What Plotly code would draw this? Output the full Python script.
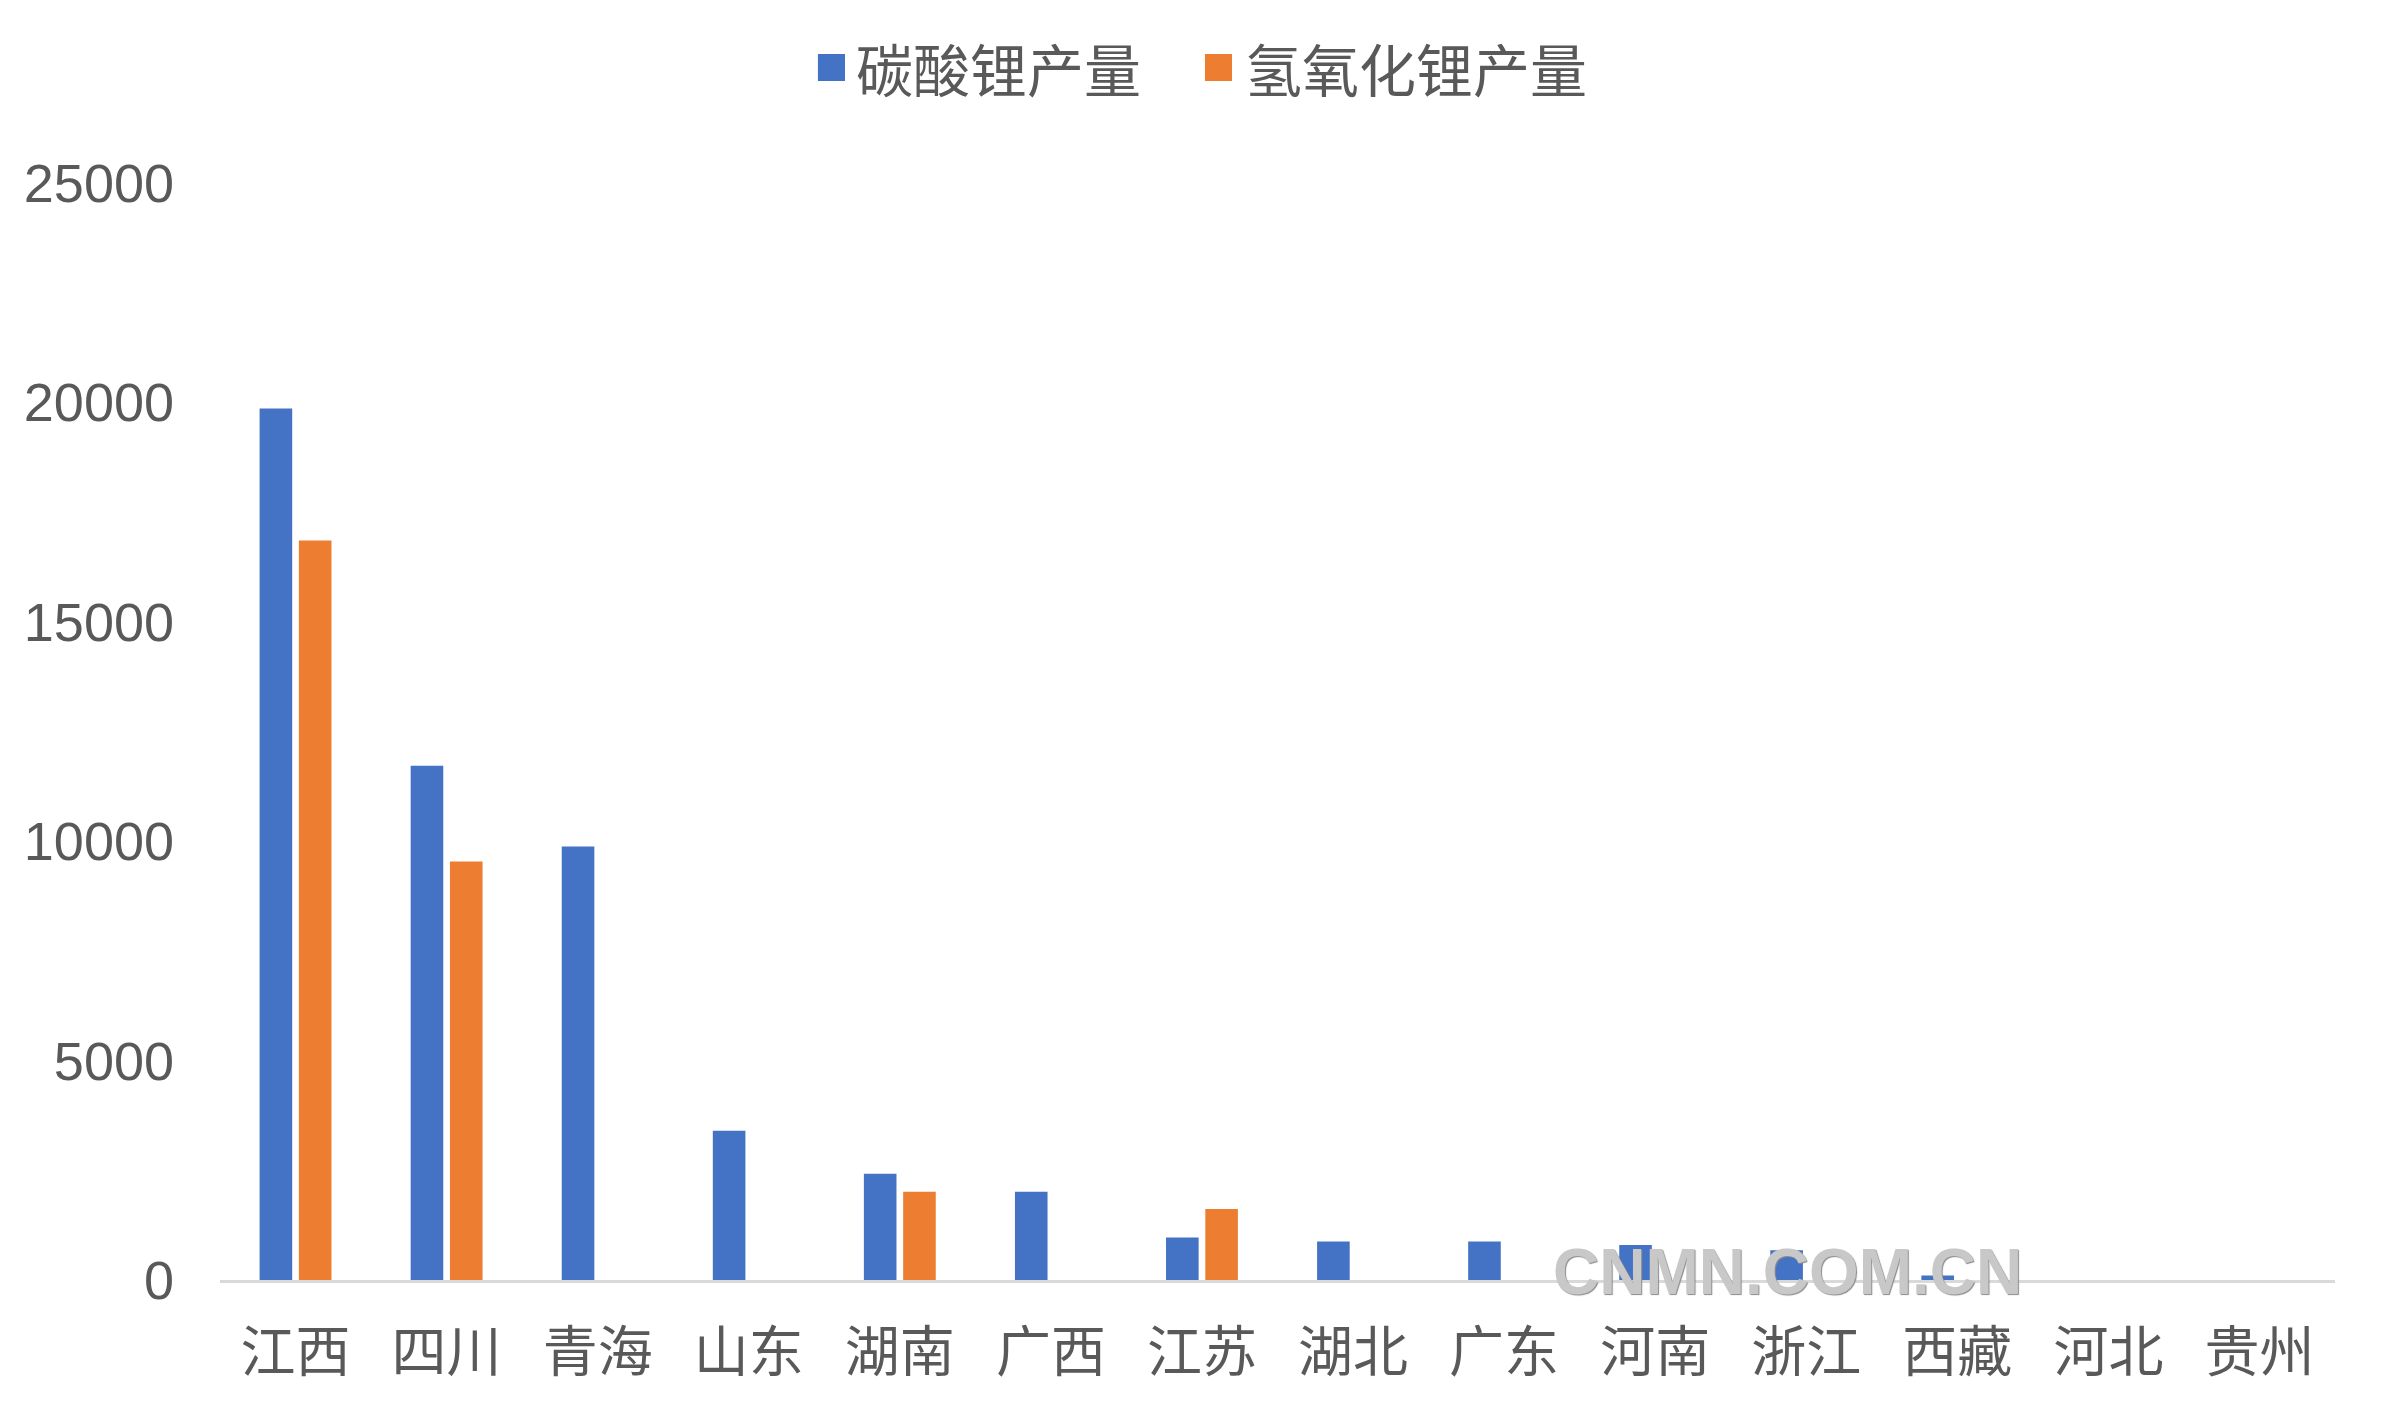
import plotly.graph_objects as go

categories = ["江西", "四川", "青海", "山东", "湖南", "广西", "江苏", "湖北", "广东", "河南", "浙江", "西藏", "河北", "贵州"]
li2co3 = [19860, 11720, 9880, 3400, 2420, 2010, 970, 880, 880, 800, 680, 100, 0, 0]
lioh = [16850, 9540, 0, 0, 2010, 0, 1620, 0, 0, 0, 0, 0, 0, 0]
series_names = ["碳酸锂产量", "氢氧化锂产量"]
y_ticks = [0, 5000, 10000, 15000, 20000, 25000]

BLUE = "#4472C4"
ORANGE = "#ED7D31"
TEXT = "#595959"
FONT = "Liberation Sans, Arial, Noto Sans CJK SC, sans-serif"
CJK = "Noto Sans CJK SC, sans-serif"
colors = [BLUE, ORANGE]

fig = go.Figure()
fig.add_trace(go.Bar(x=categories, y=li2co3, name=series_names[0],
                     marker=dict(color=BLUE, line=dict(width=0))))
fig.add_trace(go.Bar(x=categories, y=lioh, name=series_names[1],
                     marker=dict(color=ORANGE, line=dict(width=0))))

fig.update_layout(
    width=2375, height=1409,
    margin=dict(l=212, r=48, t=175, b=137),
    paper_bgcolor="white", plot_bgcolor="white",
    font=dict(family=FONT, color=TEXT),
    barmode="group", bargap=0.48, bargroupgap=0.17,
    showlegend=False,
    xaxis=dict(showgrid=False, showline=True, linecolor="#D9D9D9", linewidth=3,
               ticks="", tickfont=dict(size=55, color=TEXT, family=CJK),
               ticklabelstandoff=22),
    yaxis=dict(range=[0, 25000], tickvals=y_ticks, showgrid=False, showline=False,
               zeroline=False, ticks="", tickfont=dict(size=54, color=TEXT),
               ticklabelstandoff=45, tickformat="d"),
)

# legend drawn as swatches + labels above the plot (paper coordinates)
legend_items = [
    dict(x0=0.2827, x1=0.2955, tx=0.2996),
    dict(x0=0.4657, x1=0.4785, tx=0.4837),
]
for item, name, col in zip(legend_items, series_names, colors):
    fig.add_shape(type="rect", xref="paper", yref="paper",
                  x0=item["x0"], x1=item["x1"], y0=1.0930, y1=1.1176,
                  fillcolor=col, line=dict(width=0))
    fig.add_annotation(text=name, xref="paper", yref="paper", x=item["tx"], y=1.1058,
                       xanchor="left", yanchor="middle", showarrow=False,
                       font=dict(size=57, color=TEXT, family=CJK))

fig.add_annotation(text="CNMN.COM.CN", xref="paper", yref="paper", x=0.741, y=0.0075,
                   xanchor="center", yanchor="middle", showarrow=False,
                   font=dict(size=64, color="#C8C8C8", family="Liberation Sans Narrow, Liberation Sans, Arial, sans-serif",
                             weight="bold", shadow="1px 1px 1px #8A8A8A"))

fig.write_html("out.html")
